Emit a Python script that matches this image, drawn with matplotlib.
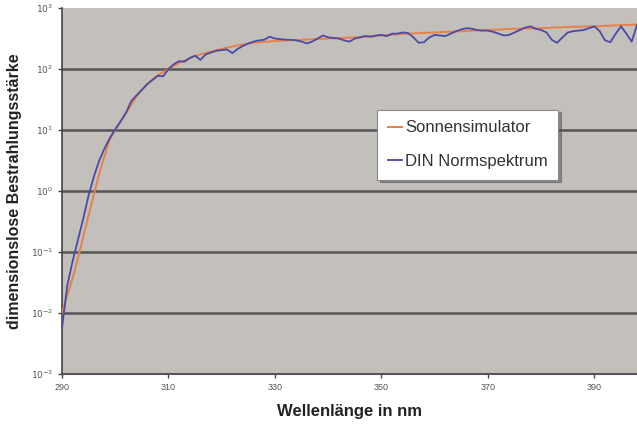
import matplotlib
matplotlib.use("Agg")
import matplotlib.pyplot as plt
import numpy as np

plt.rcParams['font.family'] = ['Liberation Sans', 'DejaVu Sans']

# DIN Normspektrum, 1 nm steps from 290 nm (log10 of the value)
din_nm = np.arange(290, 399)
din_log = [
    -2.25, -1.55, -1.15, -0.80, -0.45, -0.07, 0.24, 0.50, 0.70, 0.87,
    1.01, 1.14, 1.28, 1.47, 1.57, 1.66, 1.75, 1.82, 1.89, 1.88,
    2.00, 2.08, 2.13, 2.12, 2.18, 2.22, 2.15, 2.24, 2.27, 2.30,
    2.31, 2.32, 2.26, 2.33, 2.38, 2.42, 2.45, 2.47, 2.48, 2.53,
    2.50, 2.49, 2.48, 2.48, 2.47, 2.45, 2.42, 2.45, 2.50, 2.55,
    2.52, 2.51, 2.50, 2.47, 2.45, 2.50, 2.52, 2.54, 2.53, 2.55,
    2.56, 2.54, 2.58, 2.58, 2.60, 2.59, 2.52, 2.43, 2.44, 2.52,
    2.56, 2.55, 2.54, 2.58, 2.62, 2.65, 2.67, 2.66, 2.64, 2.63,
    2.63, 2.61, 2.58, 2.55, 2.56, 2.60, 2.64, 2.68, 2.70, 2.66,
    2.64, 2.60, 2.48, 2.43, 2.52, 2.60, 2.62, 2.63, 2.64, 2.67,
    2.70, 2.62, 2.47, 2.44, 2.58, 2.70, 2.58, 2.45, 2.72,
]

# Sonnensimulator (log10 of the value)
sim_nm = [290, 291, 292, 293, 294, 295, 296, 297, 298, 299, 300, 302, 304,
          306, 308, 310, 312, 314, 316, 318, 320, 322, 324, 326, 330, 335,
          340, 345, 350, 355, 360, 365, 370, 375, 380, 385, 390, 395, 398]
sim_log = [-2.0, -1.70, -1.43, -1.10, -0.75, -0.40, -0.05, 0.28, 0.58, 0.85,
           1.00, 1.27, 1.55, 1.76, 1.90, 2.00, 2.10, 2.18, 2.24, 2.29, 2.33,
           2.37, 2.40, 2.43, 2.46, 2.48, 2.50, 2.52, 2.55, 2.58, 2.60, 2.62,
           2.64, 2.66, 2.67, 2.69, 2.70, 2.72, 2.73]

x_ticks = [290, 310, 330, 350, 370, 390]
y_ticks = [1e-3, 1e-2, 1e-1, 1e0, 1e1, 1e2, 1e3]
y_labels = [r'$10^{-3}$', r'$10^{-2}$', r'$10^{-1}$', r'$10^{0}$',
            r'$10^{1}$', r'$10^{2}$', r'$10^{3}$']

fig = plt.figure(figsize=(6.37, 4.24), dpi=100)
ax = fig.add_axes([0.0973, 0.118, 0.9027, 0.863])
ax.set_facecolor('#c3c0bc')

ax.plot(sim_nm, np.power(10.0, sim_log), color='#e8804a', lw=1.4,
        label='Sonnensimulator', zorder=3)
ax.plot(din_nm, np.power(10.0, din_log), color='#4a4aa6', lw=1.3,
        label='DIN Normspektrum', zorder=4)

ax.set_yscale('log')
ax.set_xlim(290, 398)
ax.set_ylim(1e-3, 1e3)
ax.set_yticks(y_ticks)
ax.set_yticklabels(y_labels)
ax.minorticks_off()
ax.set_xticks(x_ticks)
ax.tick_params(axis='both', labelsize=6.5, labelcolor='#555555',
               length=3, width=1, color='#444444', direction='out')

for v in y_ticks[1:-1]:
    ax.axhline(v, color='#555555', lw=1.8, zorder=1)

for side in ['top', 'right']:
    ax.spines[side].set_visible(False)
ax.spines['left'].set_color('#444444')
ax.spines['left'].set_linewidth(1.2)
ax.spines['bottom'].set_color('#555555')
ax.spines['bottom'].set_linewidth(1.5)

ax.set_xlabel('Wellenlänge in nm', fontsize=12, fontweight='bold',
              color='#222222', labelpad=9)
ax.set_ylabel('dimensionslose Bestrahlungsstärke', fontsize=11.5,
              fontweight='bold', color='#222222', labelpad=6)

leg = ax.legend(loc='center', bbox_to_anchor=(0.706, 0.627), fontsize=12,
                frameon=True, fancybox=False, shadow=True, framealpha=1,
                edgecolor='#888888', handlelength=0.8, handletextpad=0.2,
                borderpad=0.65, labelspacing=1.1, borderaxespad=0)
leg.get_frame().set_linewidth(0.8)
for t in leg.get_texts():
    t.set_color('#333333')

fig.savefig('out.png', dpi=100)
